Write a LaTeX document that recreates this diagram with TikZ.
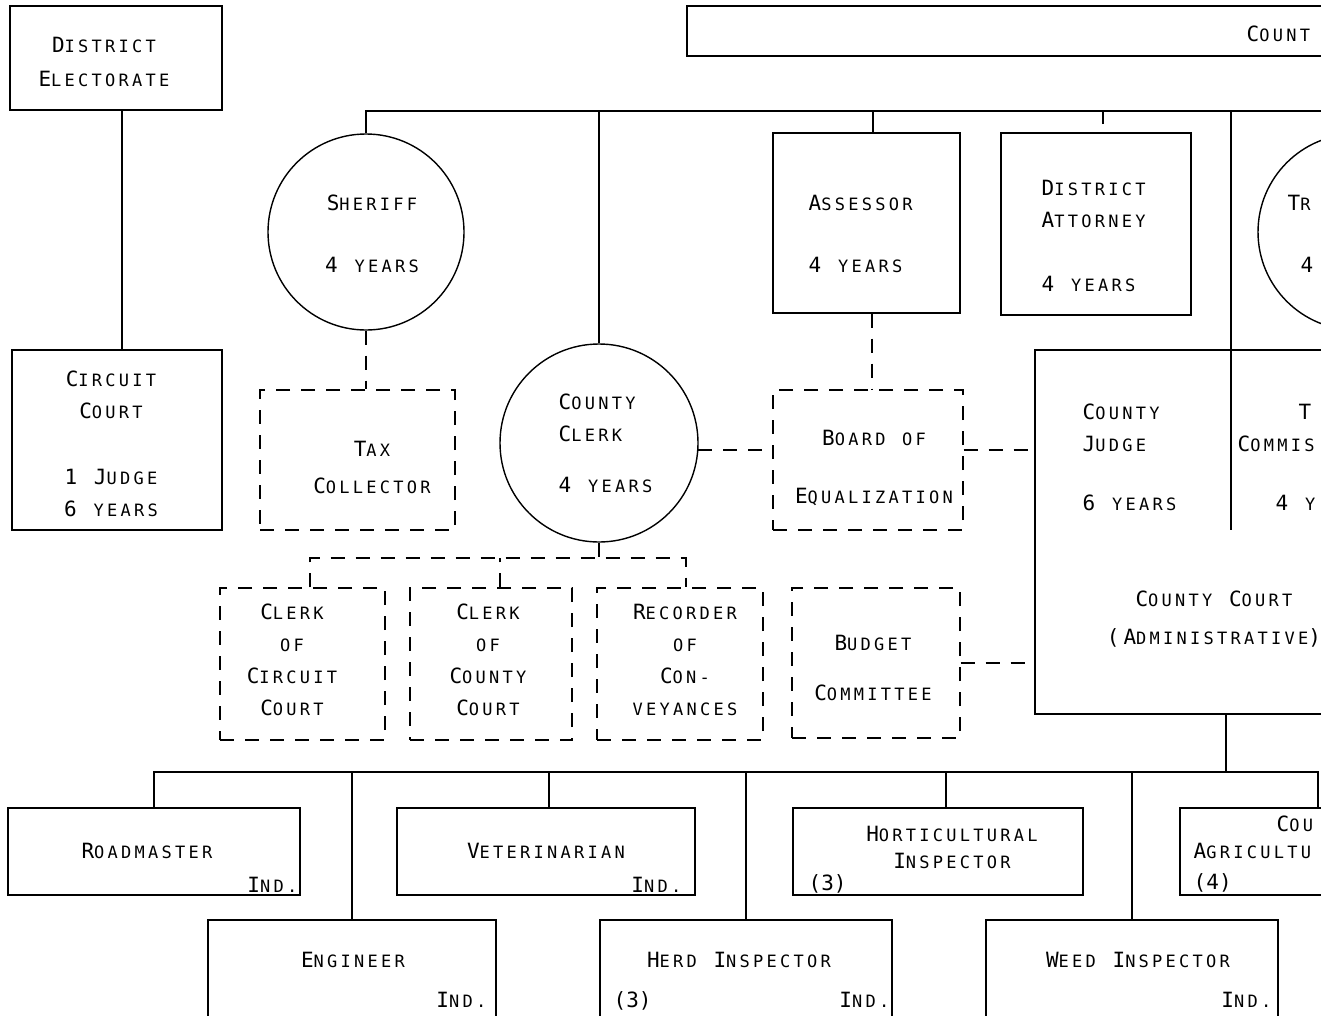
\documentclass[tikz,border=0pt]{standalone}
\usepackage{fontspec}
\newfontfamily\lett[LetterSpace=19.2]{DejaVu Sans Mono}
\newfontfamily\plainmono{DejaVu Sans Mono}
\newcommand\sm[1]{{\fontsize{17}{32}\selectfont #1}}
\newcommand\wrd[2]{#1\sm{#2}}
\newcommand\pnum[1]{{\plainmono\fontsize{21}{26}\selectfont(#1)}}
\begin{document}
\begin{tikzpicture}[x=1pt,y=-1pt,line width=1.4pt,
  bx/.style={draw,rectangle,inner sep=0pt},
  dsh/.style={dash pattern=on 14pt off 11pt},
  dbx/.style={bx,dsh},
  circ/.style={draw,circle,inner sep=0pt,minimum size=196pt},
  lbl/.style={font=\lett\fontsize{21}{32}\selectfont,inner sep=0pt,align=center},
  lbll/.style={lbl,align=left,anchor=west},
  lble/.style={lbl,anchor=east}]
\useasboundingbox (0,0) rectangle (1321,1015);
\clip (0,0) rectangle (1321,1015);
\fill[white] (0,0) rectangle (1321,1015);

% ---------- boxes ----------
\node[bx,minimum width=713,minimum height=50] (top) at (1043.5,31) {};
\node[bx,minimum width=212,minimum height=104] (de) at (116,58) {};
\node[bx,minimum width=210,minimum height=180] (cc) at (117,440) {};
\node[circ] (sheriff) at (366,232) {};
\node[dbx,minimum width=195,minimum height=140] (taxcol) at (357.5,460) {};
\node[circ,minimum size=198pt] (clerk) at (599,443) {};
\node[bx,minimum width=187,minimum height=180] (assessor) at (866.5,223) {};
\node[dbx,minimum width=190,minimum height=140] (boe) at (868,460) {};
\node[bx,minimum width=190,minimum height=182] (da) at (1096,224) {};
\node[circ] (treas) at (1356,232) {};
\node[bx,minimum width=365,minimum height=364] (court) at (1217.5,532) {};
\node[dbx,minimum width=165,minimum height=152] (ccc) at (302.5,664) {};
\node[dbx,minimum width=162,minimum height=152] (cco) at (491,664) {};
\node[dbx,minimum width=166,minimum height=152] (rec) at (680,664) {};
\node[dbx,minimum width=168,minimum height=150] (budget) at (876,663) {};
\node[bx,minimum width=292,minimum height=87] (road) at (154,851.5) {};
\node[bx,minimum width=298,minimum height=87] (vet) at (546,851.5) {};
\node[bx,minimum width=290,minimum height=87] (hort) at (938,851.5) {};
\node[bx,minimum width=220,minimum height=87] (agr) at (1290,851.5) {};
\node[bx,minimum width=288,minimum height=110] (eng) at (352,975) {};
\node[bx,minimum width=292,minimum height=110] (herd) at (746,975) {};
\node[bx,minimum width=292,minimum height=110] (weed) at (1132,975) {};

% ---------- texts ----------
\node[lbll] (top-t) at (1246,34) {\wrd{C}{OUNT}};
\node[lbl] (de-t) at (104,62) {\wrd{D}{ISTRICT}\\[2pt]\wrd{E}{LECTORATE}};
\node[lbl] (cc-t) at (111,444) {\wrd{C}{IRCUIT}\\\wrd{C}{OURT}\\[34pt]1 \wrd{J}{UDGE}\\6 \sm{YEARS}};
\node[lbl] (sheriff-t) at (372,234) {\wrd{S}{HERIFF}\\[30pt]4 \sm{YEARS}};
\node[lbl] (taxcol-t) at (372,467) {\wrd{T}{AX}\\[5pt]\wrd{C}{OLLECTOR}};
\node[lbll] (clerk-t) at (558,443.5) {\wrd{C}{OUNTY}\\\wrd{C}{LERK}\\[19pt]4 \sm{YEARS}};
\node[lbll] (assessor-t) at (808,234) {\wrd{A}{SSESSOR}\\[30pt]4 \sm{YEARS}};
\node[lbll] (da-t) at (1041,236) {\wrd{D}{ISTRICT}\\\wrd{A}{TTORNEY}\\[32pt]4 \sm{YEARS}};
\node[lbll] (treas-t1) at (1287,203) {\wrd{T}{R}};
\node[lbll] (treas-t2) at (1300,265) {4};
\node[lbl] (boe-t) at (874,468) {\wrd{B}{OARD} \sm{OF}\\[26pt]\wrd{E}{QUALIZATION}};
\node[lbll] (judge-t) at (1082,457.5) {\wrd{C}{OUNTY}\\\wrd{J}{UDGE}\\[27pt]6 \sm{YEARS}};
\node[lbll] (tcm-t1) at (1298,412) {T};
\node[lbll] (tcm-t2) at (1237,444) {\wrd{C}{OMMIS}};
\node[lbll] (tcm-t3) at (1275,503) {4 \sm{Y}};
\node[lbl] (court-t) at (1214,619) {\wrd{C}{OUNTY} \wrd{C}{OURT}\\[6pt](\wrd{A}{DMINISTRATIVE})};
\node[lbl] (ccc-t) at (292,659.5) {\wrd{C}{LERK}\\\sm{OF}\\\wrd{C}{IRCUIT}\\\wrd{C}{OURT}};
\node[lbl] (cco-t) at (488,659.5) {\wrd{C}{LERK}\\\sm{OF}\\\wrd{C}{OUNTY}\\\wrd{C}{OURT}};
\node[lbl] (rec-t) at (685,660) {\wrd{R}{ECORDER}\\\sm{OF}\\\wrd{C}{ON-}\\\sm{VEYANCES}};
\node[lbl] (budget-t) at (873,668) {\wrd{B}{UDGET}\\[18pt]\wrd{C}{OMMITTEE}};
\node[lbl] (road-t) at (147,851) {\wrd{R}{OADMASTER}};
\node[lble] (road-i) at (298,885) {\wrd{I}{ND.}};
\node[lbl] (vet-t) at (546,851) {\wrd{V}{ETERINARIAN}};
\node[lble] (vet-i) at (682,885) {\wrd{I}{ND.}};
\node[lbl] (hort-t) at (952,847.5) {\wrd{H}{ORTICULTURAL}\\[-5pt]\wrd{I}{NSPECTOR}};
\node[lbll] (hort-n) at (808,884) {\pnum{3}};
\node[lbll] (agr-t1) at (1276,824) {\wrd{C}{OU}};
\node[lbll] (agr-t2) at (1193,851) {\wrd{A}{GRICULTU}};
\node[lbll] (agr-n) at (1193,883) {\pnum{4}};
\node[lbl] (eng-t) at (353,960) {\wrd{E}{NGINEER}};
\node[lble] (eng-i) at (487,1000) {\wrd{I}{ND.}};
\node[lbl] (herd-t) at (739,960) {\wrd{H}{ERD} \wrd{I}{NSPECTOR}};
\node[lbll] (herd-n) at (613,1001) {\pnum{3}};
\node[lble] (herd-i) at (890,1000) {\wrd{I}{ND.}};
\node[lbl] (weed-t) at (1138,960) {\wrd{W}{EED} \wrd{I}{NSPECTOR}};
\node[lble] (weed-i) at (1272,1000) {\wrd{I}{ND.}};

% ---------- solid connectors ----------
\coordinate (b1R) at (1330,111);
\draw ([xshift=6pt]de.south) -- ([xshift=6pt]de.south |- cc.north);
\draw (sheriff.north) |- (b1R);
\draw (clerk.north) -- (clerk.north |- b1R);
\draw ([xshift=6.5pt]assessor.north) -- ([xshift=6.5pt]assessor.north |- b1R);
\coordinate (datick) at (1103,124);
\draw (datick) -- (datick |- b1R);
\coordinate (divT) at (1231,111);
\coordinate (divB) at (1231,530);
\draw (divT) -- (divB);

% ---------- dashed connectors ----------
\draw[dsh] (sheriff.south) -- (sheriff.south |- taxcol.north);
\draw[dsh] (clerk.-4) -- (clerk.-4 -| boe.west);
\draw[dsh] ([xshift=5.5pt]assessor.south) -- ([xshift=5.5pt]assessor.south |- boe.north);
\draw[dsh] ([yshift=10pt]boe.east) -- ([yshift=10pt]boe.east -| court.west);
\draw[dsh] (budget.east) -- (budget.east -| court.west);
\coordinate (ctbus) at (599,558);
\draw[dsh] (clerk.south) -- (ctbus);
\draw[dsh] ([xshift=7.5pt]ccc.north) |- (ctbus) -| ([xshift=6pt]rec.north);
\draw[dsh] ([xshift=9pt]cco.north) -- ([xshift=9pt]cco.north |- ctbus);

% ---------- bottom bus ----------
\coordinate (ct2) at (1226,714);
\coordinate (bus2) at (1226,772);
\draw (ct2) -- (bus2);
\draw (road.north) |- (bus2) -| ([xshift=28pt]agr.north);
\draw (eng.north) -- (eng.north |- bus2);
\draw ([xshift=3pt]vet.north) -- ([xshift=3pt]vet.north |- bus2);
\draw (herd.north) -- (herd.north |- bus2);
\draw ([xshift=8pt]hort.north) -- ([xshift=8pt]hort.north |- bus2);
\draw (weed.north) -- (weed.north |- bus2);
\end{tikzpicture}
\end{document}
